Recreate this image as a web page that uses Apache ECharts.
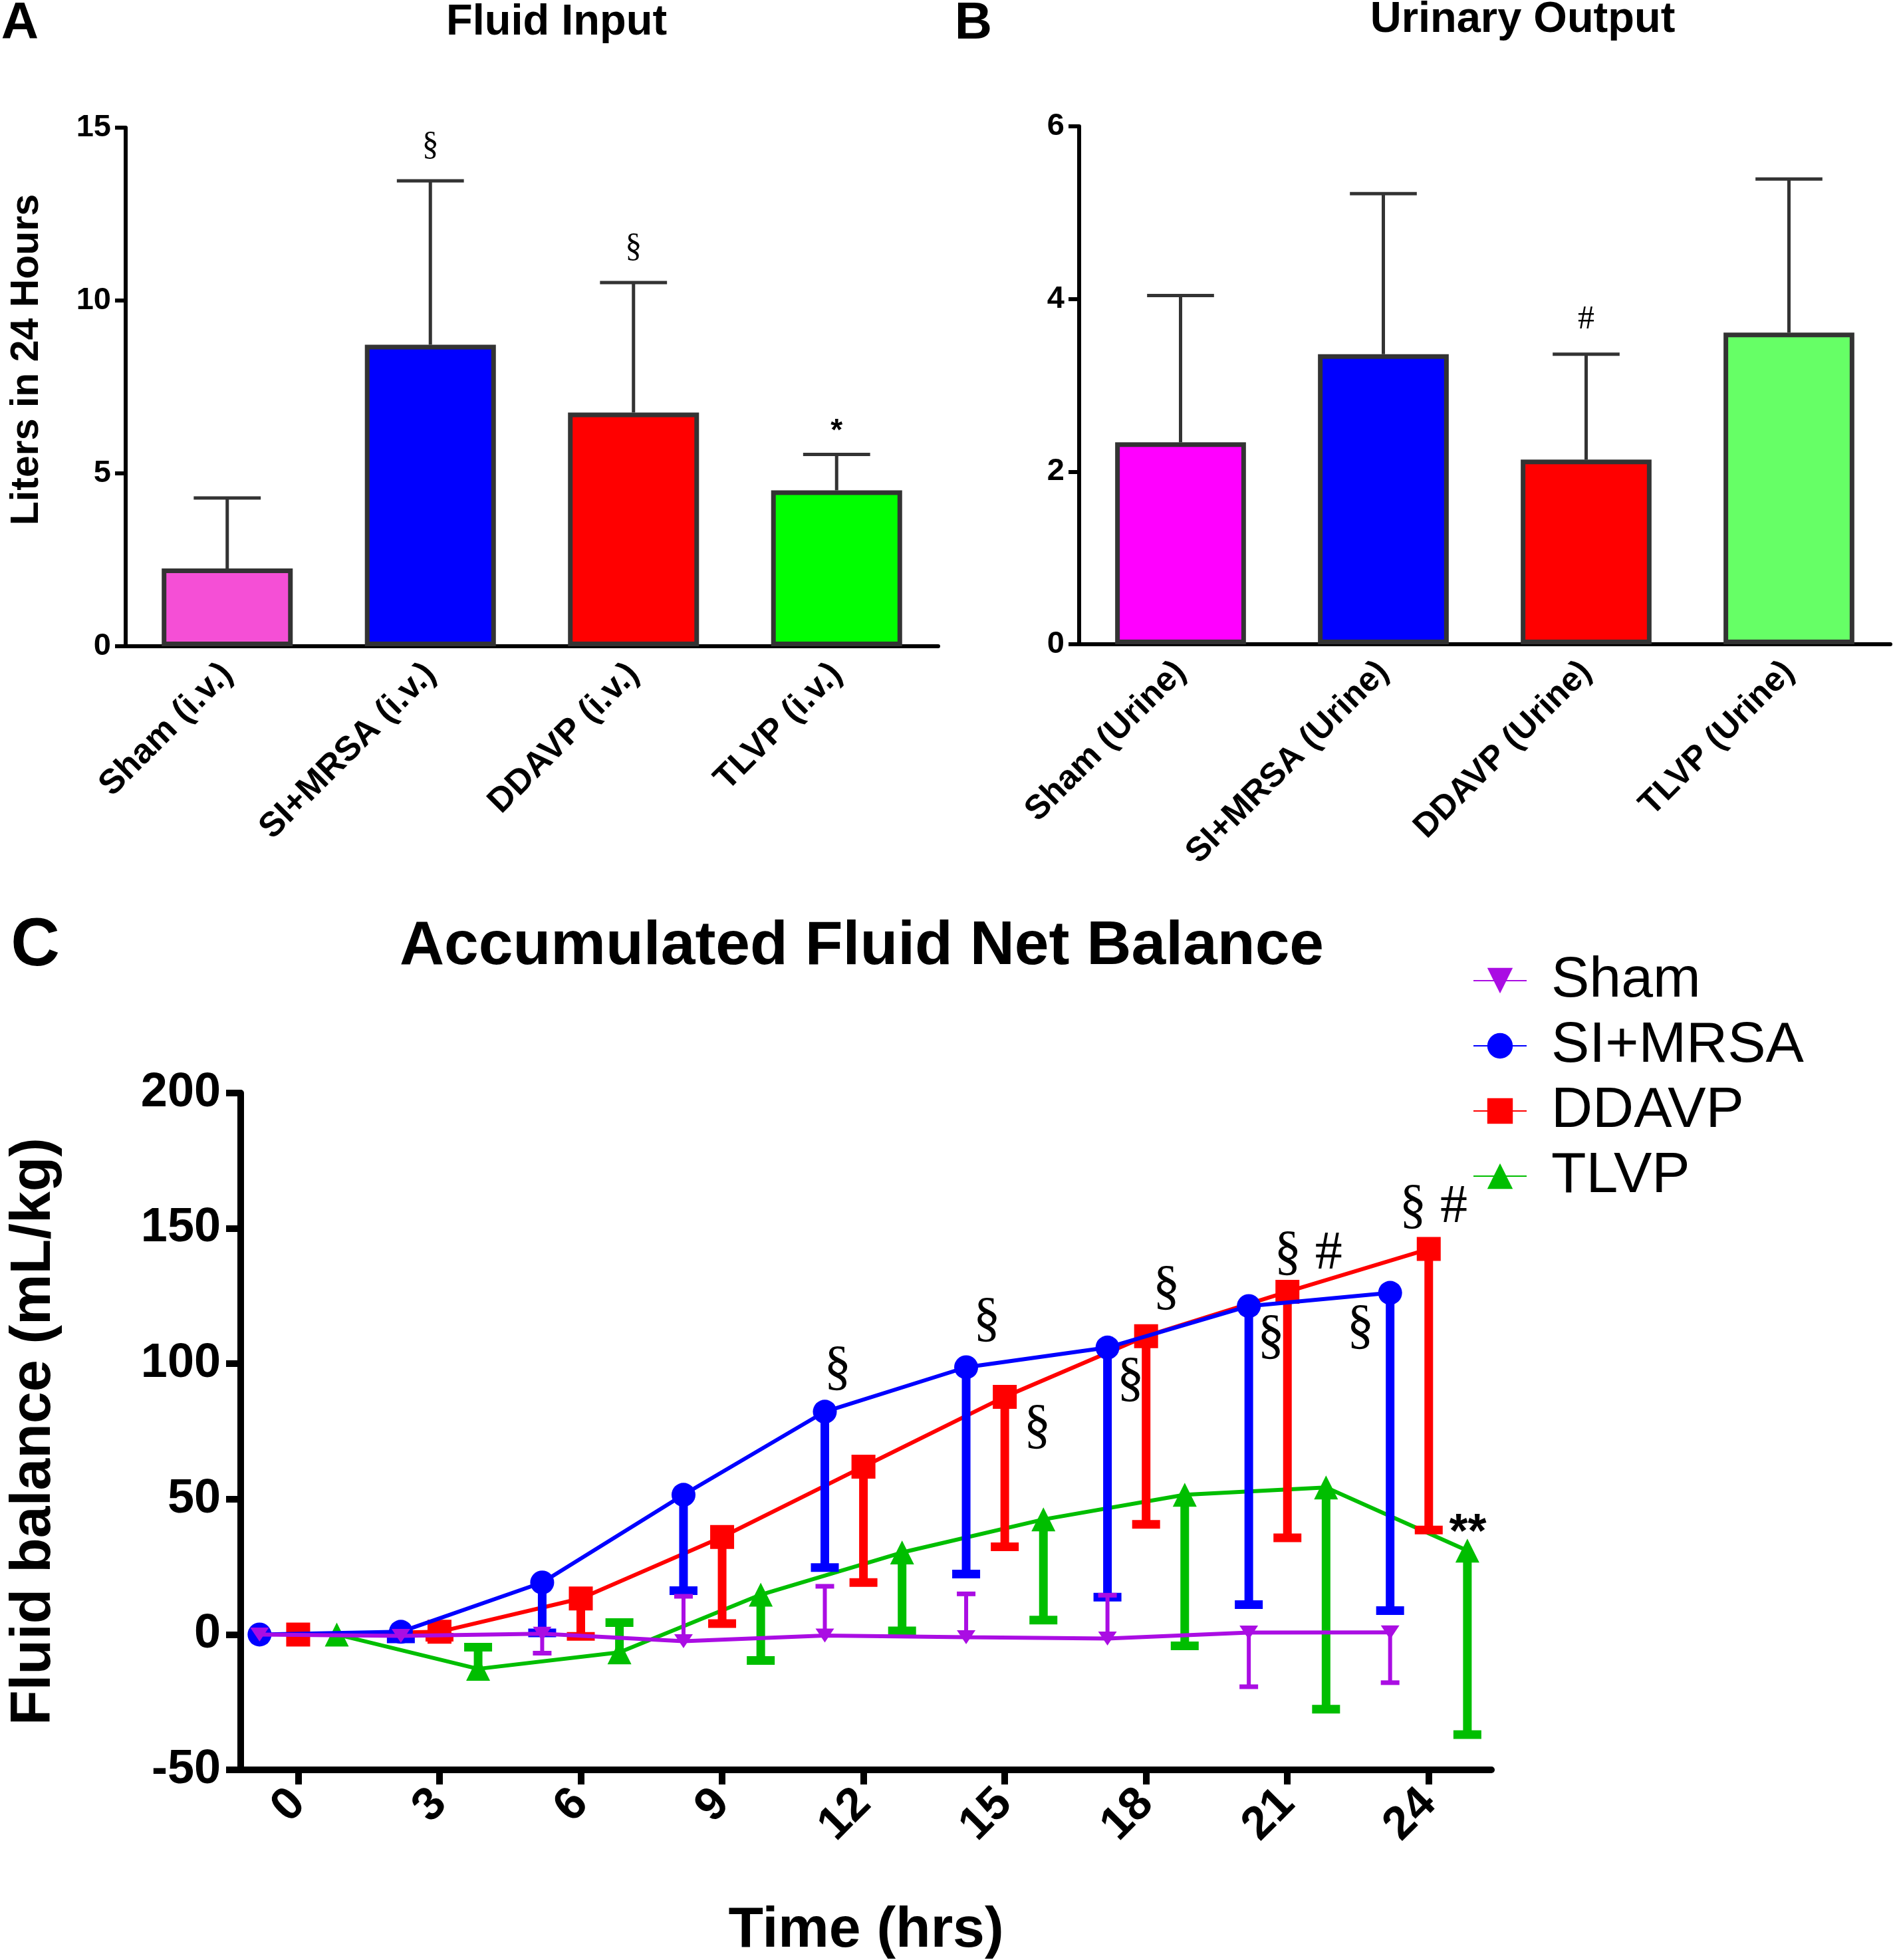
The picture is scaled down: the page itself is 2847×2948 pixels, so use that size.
<!DOCTYPE html>
<html><head><meta charset="utf-8">
<script src="https://cdn.jsdelivr.net/npm/echarts@6/dist/echarts.min.js"></script>
<style>html,body{margin:0;padding:0;background:#fff}#c{width:2847px;height:2948px}</style>
</head><body><div id="c"></div>
<script>
const SANS = '"Liberation Sans", Arial, sans-serif';
const SERIF = '"Liberation Serif", "Times New Roman", serif';

// ---- Panel A: Fluid Input ----
const inputCategories = ['Sham (i.v.)', 'SI+MRSA (i.v.)', 'DDAVP (i.v.)', 'TLVP (i.v.)'];
const inputMeans = [2.25, 8.72, 6.76, 4.51];
const inputSEM = [2.04, 4.74, 3.76, 1.04];
const inputMarks = ['', '§', '§', '*'];

// ---- Panel B: Urinary Output ----
const urineCategories = ['Sham (Urine)', 'SI+MRSA (Urine)', 'DDAVP (Urine)', 'TLVP (Urine)'];
const urineMeans = [2.34, 3.36, 2.14, 3.61];
const urineSEM = [1.70, 1.86, 1.22, 1.78];
const urineMarks = ['', '', '#', ''];

// ---- Panel C: Accumulated Fluid Net Balance ----
const hours = [0, 3, 6, 9, 12, 15, 18, 21, 24];
const shamMean = [0, -0.5, 0.3, -2.5, -0.4, -1.0, -1.5, 0.7, 0.8];
const shamErr  = [0, 0, -7.2, 16.6, 18.2, 16.0, 16.0, -20.0, -18.6];
const mrsaMean = [0, 1.0, 19.2, 51.6, 82.3, 98.7, 106.0, 121.3, 126.2];
const mrsaErr  = [0, -2.6, -18.6, -35.4, -57.6, -76.4, -92.2, -110.3, -117.4];
const ddavpMean = [0, 1.0, 13.3, 36.0, 62.0, 87.8, 110.2, 126.6, 142.4];
const ddavpErr  = [0, -2.0, -14.0, -32.0, -42.8, -55.4, -69.5, -90.9, -103.8];
const tlvpMean = [0, -12.7, -6.6, 14.7, 30.3, 42.5, 51.6, 54.3, 31.0];
const tlvpErr  = [0, 8.0, 11.0, -24.3, -29.0, -37.2, -55.8, -81.9, -68.0];
// significance marks: [time, value, text]
const cMarks = [
  [11.45, 98.0, '§'], [14.62, 116.0, '§'], [15.69, 76.3, '§'], [18.43, 127.7, '§'],
  [17.67, 93.9, '§'], [21.44, 140.4, '§ #'], [20.65, 109.5, '§'], [22.55, 113.2, '§'],
  [24.10, 157.6, '§ #'], [24.83, 40.0, '**']
];

const inputColors = ['#F54FD6', '#0000FF', '#FF0000', '#00FF00'];
const urineColors = ['#FF00FF', '#0000FF', '#FF0000', '#66FF66'];
const C_SHAM = '#AA0DE3', C_MRSA = '#0000FF', C_DDAVP = '#FF0000', C_TLVP = '#00BE00';

const chart = echarts.init(document.getElementById('c'), null, {renderer: 'canvas'});

function barErr(means, sems, marks) {
  return function (params, api) {
    const i = params.dataIndex;
    const m = api.value(1), s = api.value(2);
    const p0 = api.coord([api.value(0), m]);
    const p1 = api.coord([api.value(0), m + s]);
    const band = api.size([1, 0])[0];
    const cw = band * 0.33;
    const children = [
      {type: 'line', shape: {x1: p0[0], y1: p0[1], x2: p1[0], y2: p1[1]}, style: {stroke: '#333', lineWidth: 5}},
      {type: 'line', shape: {x1: p1[0] - cw / 2, y1: p1[1], x2: p1[0] + cw / 2, y2: p1[1]}, style: {stroke: '#333', lineWidth: 5}}
    ];
    if (marks[i]) {
      const star = marks[i] === '*';
      children.push({type: 'text', x: p1[0], y: p1[1] - (star ? 34 : 52),
        style: {text: marks[i], fill: '#000', fontSize: star ? 46 : 50,
          fontFamily: star ? SANS : SERIF, fontWeight: star ? 'bold' : 'normal',
          align: 'center', verticalAlign: 'middle'}});
    }
    return {type: 'group', children};
  };
}

function lineErr(color, lw, capW, capLw) {
  return function (params, api) {
    const x = api.value(0), m = api.value(1), e = api.value(2);
    if (!e) return null;
    const p0 = api.coord([x, m]);
    const p1 = api.coord([x, m + e]);
    return {type: 'group', children: [
      {type: 'line', shape: {x1: p0[0], y1: p0[1], x2: p1[0], y2: p1[1]}, style: {stroke: color, lineWidth: lw}},
      {type: 'line', shape: {x1: p1[0] - capW / 2, y1: p1[1], x2: p1[0] + capW / 2, y2: p1[1]}, style: {stroke: color, lineWidth: capLw}}
    ]};
  };
}

const OFF_LEFT = -0.82, OFF_RIGHT = 0.82;
const pts = (mean, err, off) => hours.map((h, i) => [h + off, mean[i], err[i]]);

const boldLbl = (size) => ({fontSize: size, fontWeight: 'bold', color: '#000', fontFamily: SANS});

const catAxis = (grid, data, size) => ({
  type: 'category', gridIndex: grid, data,
  axisLine: {lineStyle: {color: '#000', width: 6}},
  axisTick: {alignWithLabel: true, length: 14, lineStyle: {color: '#000', width: 6}},
  axisLabel: Object.assign({rotate: 45, margin: 34, interval: 0}, boldLbl(size))
});

const txt = (x, y, text, size, extra) => Object.assign({type: 'text', x, y,
  style: {text, fontSize: size, fontWeight: 'bold', fontFamily: SANS, fill: '#000', align: 'center', verticalAlign: 'middle'}}, extra || {});

const option = {
  animation: false,
  backgroundColor: '#fff',
  grid: [
    {left: 189, right: 1436, top: 192, bottom: 1976},
    {left: 1623, right: 4, top: 190, bottom: 1979},
    {left: 353, right: 604, top: 1644, bottom: 284}
  ],
  graphic: [
    txt(30, 36, 'A', 78),
    txt(837, 34, 'Fluid Input', 65),
    txt(1464, 36, 'B', 78),
    txt(2290, 30, 'Urinary Output', 65),
    txt(53, 1424, 'C', 102),
    txt(1296, 1424, 'Accumulated Fluid Net Balance', 93),
    txt(41, 541, 'Liters in 24 Hours', 59, {rotation: Math.PI / 2})
  ],
  legend: {
    data: ['Sham', 'SI+MRSA', 'DDAVP', 'TLVP'],
    orient: 'vertical', left: 2215, top: 1432, padding: 0,
    itemWidth: 80, itemHeight: 48, itemGap: 12,
    textStyle: {fontSize: 86, fontFamily: SANS, color: '#000', padding: [0, 0, 0, 32]}
  },
  xAxis: [
    catAxis(0, inputCategories, 52),
    catAxis(1, urineCategories, 51),
    {
      type: 'value', gridIndex: 2, min: -1.22, max: 25.33,
      splitLine: {show: false},
      axisLine: {onZero: false, lineStyle: {color: '#000', width: 10}},
      axisTick: {customValues: hours, length: 22, lineStyle: {color: '#000', width: 10}},
      axisLabel: Object.assign({customValues: hours, rotate: 45, margin: 40}, boldLbl(70)),
      name: 'Time (hrs)', nameLocation: 'middle', nameGap: 199,
      nameTextStyle: boldLbl(86)
    }
  ],
  yAxis: [
    {
      type: 'value', gridIndex: 0, min: 0, max: 15, interval: 5,
      splitLine: {show: false},
      axisLine: {show: true, lineStyle: {color: '#000', width: 6}},
      axisTick: {show: true, length: 16, lineStyle: {color: '#000', width: 6}},
      axisLabel: Object.assign({margin: 22}, boldLbl(47))
    },
    {
      type: 'value', gridIndex: 1, min: 0, max: 6, interval: 2,
      splitLine: {show: false},
      axisLine: {show: true, lineStyle: {color: '#000', width: 6}},
      axisTick: {show: true, length: 16, lineStyle: {color: '#000', width: 6}},
      axisLabel: Object.assign({margin: 22}, boldLbl(47))
    },
    {
      type: 'value', gridIndex: 2, min: -50, max: 200, interval: 50,
      splitLine: {show: false},
      axisLine: {show: true, onZero: false, lineStyle: {color: '#000', width: 10}},
      axisTick: {show: true, length: 22, lineStyle: {color: '#000', width: 10}},
      axisLabel: Object.assign({margin: 30}, boldLbl(72)),
      name: 'Fluid balance (mL/kg)', nameLocation: 'middle', nameGap: 268,
      nameTextStyle: boldLbl(86)
    }
  ],
  series: [
    {
      type: 'bar', xAxisIndex: 0, yAxisIndex: 0, barWidth: '64.5%',
      data: inputMeans.map((v, i) => ({value: v, itemStyle: {color: inputColors[i]}})),
      itemStyle: {borderColor: '#333', borderWidth: 7}
    },
    {
      type: 'custom', xAxisIndex: 0, yAxisIndex: 0, z: 3,
      renderItem: barErr(inputMeans, inputSEM, inputMarks),
      encode: {x: 0, y: 1},
      data: inputMeans.map((v, i) => [i, v, inputSEM[i]])
    },
    {
      type: 'bar', xAxisIndex: 1, yAxisIndex: 1, barWidth: '64.5%',
      data: urineMeans.map((v, i) => ({value: v, itemStyle: {color: urineColors[i]}})),
      itemStyle: {borderColor: '#333', borderWidth: 7}
    },
    {
      type: 'custom', xAxisIndex: 1, yAxisIndex: 1, z: 3,
      renderItem: barErr(urineMeans, urineSEM, urineMarks),
      encode: {x: 0, y: 1},
      data: urineMeans.map((v, i) => [i, v, urineSEM[i]])
    },
    // TLVP
    {type: 'custom', xAxisIndex: 2, yAxisIndex: 2, z: 2, renderItem: lineErr(C_TLVP, 13, 42, 13), encode: {x: 0, y: 1}, data: pts(tlvpMean, tlvpErr, OFF_RIGHT)},
    {name: 'TLVP', type: 'line', xAxisIndex: 2, yAxisIndex: 2, z: 2, symbol: 'triangle', symbolSize: 36,
      lineStyle: {color: C_TLVP, width: 6}, itemStyle: {color: C_TLVP}, data: pts(tlvpMean, tlvpErr, OFF_RIGHT).map(d => [d[0], d[1]])},
    // DDAVP
    {type: 'custom', xAxisIndex: 2, yAxisIndex: 2, z: 3, renderItem: lineErr(C_DDAVP, 13, 42, 13), encode: {x: 0, y: 1}, data: pts(ddavpMean, ddavpErr, 0)},
    {name: 'DDAVP', type: 'line', xAxisIndex: 2, yAxisIndex: 2, z: 3, symbol: 'rect', symbolSize: 36,
      lineStyle: {color: C_DDAVP, width: 6}, itemStyle: {color: C_DDAVP}, data: pts(ddavpMean, ddavpErr, 0).map(d => [d[0], d[1]])},
    // SI+MRSA
    {type: 'custom', xAxisIndex: 2, yAxisIndex: 2, z: 4, renderItem: lineErr(C_MRSA, 13, 42, 13), encode: {x: 0, y: 1}, data: pts(mrsaMean, mrsaErr, OFF_LEFT)},
    {name: 'SI+MRSA', type: 'line', xAxisIndex: 2, yAxisIndex: 2, z: 4, symbol: 'circle', symbolSize: 36,
      lineStyle: {color: C_MRSA, width: 6}, itemStyle: {color: C_MRSA}, data: pts(mrsaMean, mrsaErr, OFF_LEFT).map(d => [d[0], d[1]])},
    // Sham
    {type: 'custom', xAxisIndex: 2, yAxisIndex: 2, z: 5, renderItem: lineErr(C_SHAM, 6, 28, 7), encode: {x: 0, y: 1}, data: pts(shamMean, shamErr, OFF_LEFT)},
    {name: 'Sham', type: 'line', xAxisIndex: 2, yAxisIndex: 2, z: 5, symbol: 'path://M0,0L10,0L5,7.5Z', symbolSize: [28, 21],
      lineStyle: {color: C_SHAM, width: 6}, itemStyle: {color: C_SHAM}, data: pts(shamMean, shamErr, OFF_LEFT).map(d => [d[0], d[1]])},
    // significance marks
    {
      type: 'custom', xAxisIndex: 2, yAxisIndex: 2, z: 6, encode: {x: 0, y: 1},
      data: cMarks.map(d => [d[0], d[1]]),
      renderItem: function (params, api) {
        const p = api.coord([api.value(0), api.value(1)]);
        const t = cMarks[params.dataIndex][2];
        const isStar = t === '**';
        return {type: 'text', x: p[0], y: p[1] + (isStar ? 12 : 0), style: {
          text: t, fill: '#000', fontSize: isStar ? 72 : 82,
          fontFamily: isStar ? SANS : SERIF, fontWeight: isStar ? 'bold' : 'normal',
          align: 'center', verticalAlign: 'middle'}};
      }
    }
  ]
};
chart.setOption(option);
</script>
</body></html>
